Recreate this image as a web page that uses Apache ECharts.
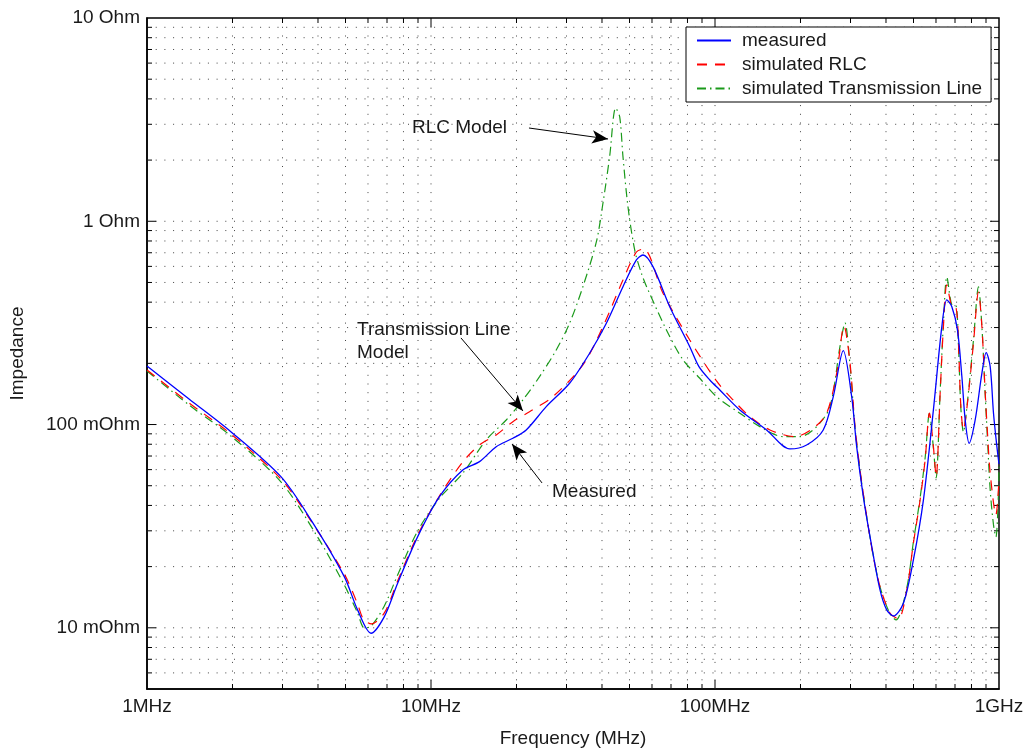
<!DOCTYPE html>
<html><head><meta charset="utf-8">
<script src="https://cdn.jsdelivr.net/npm/echarts@6.0.0/dist/echarts.min.js"></script>
<style>html,body{margin:0;padding:0;background:#fff}#chart{width:1027px;height:748px}</style>
</head><body><div id="chart"></div>
<script>
// ---------- data (frequency in MHz, impedance in Ohm) ----------
const measuredFreq = [1, 1.406, 1.973, 2.961, 3.778, 4.95, 5.514, 6.149, 6.85, 7.63, 8.978, 10.71, 12.94, 14.82, 16.97, 19.42, 21.64, 25.46, 30.76, 36.18, 41.44, 47.42, 52.88, 55.78, 60.48, 69.28, 81.49, 87.8, 95.87, 103.97, 122.3, 151.9, 183.5, 210.2, 240.5, 260.9, 282.9, 302.9, 315.4, 332.8, 351.4, 381.1, 402.4, 424.6, 460.6, 499.5, 541.9, 587.5, 629.1, 655.2, 682.3, 714.1, 740.1, 760.2, 785.2, 824.4, 870.5, 901.5, 931.1, 956.4, 983.1, 1000];
const measuredZ = [0.1942, 0.1336, 0.09228, 0.05541, 0.03395, 0.01785, 0.01225, 0.0094, 0.01135, 0.01657, 0.0281, 0.04418, 0.0598, 0.06569, 0.07783, 0.08562, 0.09406, 0.1225, 0.1596, 0.2242, 0.315, 0.4768, 0.6451, 0.6826, 0.598, 0.3801, 0.2416, 0.1927, 0.1657, 0.148, 0.118, 0.09406, 0.07586, 0.07936, 0.09406, 0.1372, 0.231, 0.1372, 0.07783, 0.04418, 0.0281, 0.01536, 0.01225, 0.01144, 0.01321, 0.02158, 0.04257, 0.118, 0.3031, 0.4101, 0.3801, 0.292, 0.172, 0.1053, 0.0809, 0.1053, 0.1787, 0.2258, 0.1927, 0.1137, 0.07783, 0.064];

const rlcFreq = [1, 1.406, 1.973, 2.961, 3.778, 4.95, 5.514, 5.776, 6.165, 6.85, 7.63, 8.978, 10.71, 12.94, 14.82, 16.97, 19.42, 22.23, 26.86, 34.27, 40.31, 47.42, 52.88, 56.09, 65.61, 81.49, 101.2, 115.8, 132.7, 156.1, 191.1, 221.8, 247.3, 268.2, 284.6, 298.8, 311.2, 324.1, 342.2, 361.1, 381.1, 413.4, 442.2, 473.4, 499.5, 527.5, 549.4, 568.9, 587.5, 600.7, 620.5, 637.3, 655.2, 682.3, 706.5, 719.8, 733.9, 749.5, 774.2, 813.0, 846.6, 870.5, 894.3, 911.1, 931.1, 975.2, 1000];
const rlcZ = [0.1856, 0.1277, 0.08991, 0.054, 0.03356, 0.01841, 0.0131, 0.01106, 0.01045, 0.01184, 0.01701, 0.02864, 0.04454, 0.06546, 0.07936, 0.08888, 0.1033, 0.1157, 0.1372, 0.1965, 0.3031, 0.5144, 0.7063, 0.7307, 0.4423, 0.2607, 0.1638, 0.1321, 0.1093, 0.09406, 0.08719, 0.09589, 0.1137, 0.1787, 0.3055, 0.2009, 0.09765, 0.0598, 0.03524, 0.0224, 0.01595, 0.0118, 0.01106, 0.01536, 0.02607, 0.04257, 0.06697, 0.1137, 0.07783, 0.05541, 0.1426, 0.3031, 0.4861, 0.3801, 0.3733, 0.2511, 0.1225, 0.09406, 0.1273, 0.2511, 0.4489, 0.3031, 0.1426, 0.09062, 0.05759, 0.03591, 0.0534];

const tlineFreq = [1, 1.406, 1.973, 2.961, 3.986, 4.95, 5.514, 5.824, 6.165, 6.85, 7.63, 8.978, 10.71, 12.94, 15.64, 18.4, 21.06, 24.11, 27.61, 30.76, 34.27, 38.21, 40.31, 42.56, 44.69, 46.17, 47.42, 49.38, 52.15, 55.06, 57.48, 67.45, 77.18, 88.39, 101.2, 122.3, 143.9, 173.9, 199.1, 228, 254, 275.4, 286.8, 298.8, 311.2, 324.1, 342.2, 361.1, 381.1, 413.4, 434.1, 473.4, 499.5, 527.5, 549.4, 568.9, 587.5, 600.7, 620.5, 637.3, 655.2, 682.3, 706.5, 719.8, 733.9, 749.5, 774.2, 813, 846.6, 870.5, 894.3, 911.1, 931.1, 956.4, 975.2, 995.9, 1000];
const tlineZ = [0.1835, 0.1248, 0.08789, 0.05221, 0.028, 0.01626, 0.01184, 0.00999, 0.01022, 0.01281, 0.0182, 0.02996, 0.04339, 0.05759, 0.084, 0.1053, 0.1321, 0.172, 0.2328, 0.315, 0.4768, 0.791, 1.226, 2.078, 3.608, 3.269, 2.078, 1.18, 0.7224, 0.5549, 0.4751, 0.292, 0.2079, 0.1689, 0.1372, 0.1137, 0.09765, 0.08719, 0.08719, 0.09765, 0.1225, 0.2416, 0.3161, 0.1965, 0.09623, 0.05913, 0.035, 0.02258, 0.0159, 0.0117, 0.01094, 0.01571, 0.02646, 0.04355, 0.06849, 0.1137, 0.07669, 0.05463, 0.1447, 0.3161, 0.5321, 0.3876, 0.3833, 0.2463, 0.1207, 0.09196, 0.1292, 0.2607, 0.4751, 0.3031, 0.1398, 0.084, 0.04769, 0.03208, 0.028, 0.04609, 0.06697];

const seriesNames = ['measured', 'simulated RLC', 'simulated Transmission Line'];

const xTickValues = [1, 10, 100, 1000];
const xTickLabels = ['1MHz', '10MHz', '100MHz', '1GHz'];
const yTickValues = [0.01, 0.1, 1, 10];
const yTickLabels = ['10 mOhm', '100 mOhm', '1 Ohm', '10 Ohm'];

const X_MIN = 1, X_MAX = 1000, Y_MIN = 0.005, Y_MAX = 10;

// grid line positions (log minor + major)
const xGridValues = [2,3,4,5,6,7,8,9,10,20,30,40,50,60,70,80,90,100,200,300,400,500,600,700,800,900];
const yGridValues = [0.006,0.007,0.008,0.009,0.01,0.02,0.03,0.04,0.05,0.06,0.07,0.08,0.09,0.1,0.2,0.3,0.4,0.5,0.6,0.7,0.8,0.9,1,2,3,4,5,6,7,8,9];

// annotation arrows: start (f, Z) -> end (f, Z)
const arrowRLC = [[22.13, 2.876], [42.01, 2.54]];
const arrowTL = [[12.75, 0.2667], [21.08, 0.1166]];
const arrowMeas = [[24.6, 0.0516], [19.29, 0.0802]];

// ---------- helpers ----------
function zip(a, b) { const n = Math.min(a.length, b.length); const r = []; for (let i = 0; i < n; i++) r.push([a[i], b[i]]); return r; }
function isDecade(v) { const l = Math.log10(v); return Math.abs(l - Math.round(l)) < 1e-9; }
function labelFor(v, vals, labels) {
  for (let i = 0; i < vals.length; i++) if (Math.abs(Math.log10(v) - Math.log10(vals[i])) < 1e-6) return labels[i];
  return '';
}

const FONT = 'Liberation Sans, Arial, Helvetica, sans-serif';
const FS = 19;
const TXT = '#1a1a1a';

const chart = echarts.init(document.getElementById('chart'), null, { renderer: 'canvas' });

const option = {
  animation: false,
  backgroundColor: '#fff',
  textStyle: { fontFamily: FONT },
  grid: { left: 147, top: 18, width: 852, height: 671, outerBoundsMode: 'none', containLabel: false,
          show: true, borderColor: '#000', borderWidth: 1.5, backgroundColor: 'transparent' },
  xAxis: {
    type: 'log', logBase: 10, min: X_MIN, max: X_MAX,
    name: 'Frequency (MHz)', nameLocation: 'middle', nameGap: 40,
    nameTextStyle: { fontSize: FS, color: TXT, fontFamily: FONT },
    axisLine: { show: true, lineStyle: { color: '#000', width: 1.5 } },
    axisTick: { show: false }, splitLine: { show: false }, minorTick: { show: false },
    axisLabel: { fontSize: FS, color: TXT, fontFamily: FONT, margin: 8, showMinLabel: true, showMaxLabel: true,
      formatter: v => labelFor(v, xTickValues, xTickLabels) }
  },
  yAxis: {
    type: 'log', logBase: 10, min: Y_MIN, max: Y_MAX,
    name: 'Impedance', nameLocation: 'middle', nameGap: 120,
    nameTextStyle: { fontSize: FS, color: TXT, fontFamily: FONT },
    axisLine: { show: true, lineStyle: { color: '#000', width: 1.5 } },
    axisTick: { show: false }, splitLine: { show: false }, minorTick: { show: false },
    axisLabel: { fontSize: FS, color: TXT, fontFamily: FONT, margin: 7, showMinLabel: true, showMaxLabel: true,
      formatter: v => labelFor(v, yTickValues, yTickLabels) }
  },
  legend: {
    data: seriesNames, orient: 'vertical', left: 686, top: 27,
    itemWidth: 34, itemHeight: 12, itemGap: 1,
    padding: [2, 9, 2, 10],
    borderColor: '#000', borderWidth: 1, backgroundColor: '#fff',
    itemStyle: { opacity: 0, borderWidth: 0 },
    textStyle: { fontSize: FS, color: TXT, fontFamily: FONT, lineHeight: 23, padding: [0, 0, 0, 6] },
    selectedMode: false
  },
  graphic: [
    { type: 'text', left: 412, top: 118, z: 100, style: { text: 'RLC Model', font: FS + 'px ' + FONT, fill: TXT } },
    { type: 'text', left: 357, top: 318, z: 100, style: { text: 'Transmission Line\nModel', font: FS + 'px ' + FONT, fill: TXT, lineHeight: 23 } },
    { type: 'text', left: 552, top: 482, z: 100, style: { text: 'Measured', font: FS + 'px ' + FONT, fill: TXT } }
  ],
  series: [
    {
      type: 'custom', name: 'xgrid', silent: true, z: 1, clip: false,
      data: xGridValues.map(v => [v, 1]),
      renderItem: function (params, api) {
        const v = api.value(0);
        const a = api.coord([v, Y_MIN]);
        const b = api.coord([v, Y_MAX]);
        const t = isDecade(v) ? 9 : 5;
        return { type: 'group', children: [
          { type: 'line', shape: { x1: a[0], y1: a[1], x2: b[0], y2: b[1] }, style: { stroke: '#444', lineWidth: 1, lineDash: [1, 7.7] } },
          { type: 'line', shape: { x1: a[0], y1: a[1], x2: a[0], y2: a[1] - t }, style: { stroke: '#000', lineWidth: 1 } },
          { type: 'line', shape: { x1: b[0], y1: b[1], x2: b[0], y2: b[1] + t }, style: { stroke: '#000', lineWidth: 1 } }
        ] };
      }
    },
    {
      type: 'custom', name: 'ygrid', silent: true, z: 1, clip: false,
      data: yGridValues.map(v => [10, v]),
      renderItem: function (params, api) {
        const v = api.value(1);
        const a = api.coord([X_MIN, v]);
        const b = api.coord([X_MAX, v]);
        const t = isDecade(v) ? 9 : 5;
        return { type: 'group', children: [
          { type: 'line', shape: { x1: a[0], y1: a[1], x2: b[0], y2: b[1] }, style: { stroke: '#444', lineWidth: 1, lineDash: [1, 7.7] } },
          { type: 'line', shape: { x1: a[0], y1: a[1], x2: a[0] + t, y2: a[1] }, style: { stroke: '#000', lineWidth: 1 } },
          { type: 'line', shape: { x1: b[0], y1: b[1], x2: b[0] - t, y2: b[1] }, style: { stroke: '#000', lineWidth: 1 } }
        ] };
      }
    },
    {
      type: 'line', name: seriesNames[2], data: zip(tlineFreq, tlineZ), z: 3,
      showSymbol: false, symbol: 'none', smooth: 0.3,
      lineStyle: { color: '#1a9a1a', width: 1.2, type: [9, 4, 1.5, 4] },
      itemStyle: { color: '#1a9a1a' }
    },
    {
      type: 'line', name: seriesNames[1], data: zip(rlcFreq, rlcZ), z: 4,
      showSymbol: false, symbol: 'none', smooth: 0.3,
      lineStyle: { color: '#ff0000', width: 1.2, type: [10, 8] },
      itemStyle: { color: '#ff0000' }
    },
    {
      type: 'line', name: seriesNames[0], data: zip(measuredFreq, measuredZ), z: 5,
      showSymbol: false, symbol: 'none', smooth: 0.3,
      lineStyle: { color: '#0000ff', width: 1.3 },
      itemStyle: { color: '#0000ff' },
      markLine: {
        silent: true, animation: false,
        symbol: ['none', 'arrow'], symbolSize: [10, 16],
        label: { show: false },
        lineStyle: { color: '#000', width: 1, type: 'solid' },
        emphasis: { disabled: true },
        data: [
          [{ coord: arrowRLC[0] }, { coord: arrowRLC[1] }],
          [{ coord: arrowTL[0] }, { coord: arrowTL[1] }],
          [{ coord: arrowMeas[0] }, { coord: arrowMeas[1] }]
        ]
      }
    }
  ]
};
chart.setOption(option);
</script></body></html>
